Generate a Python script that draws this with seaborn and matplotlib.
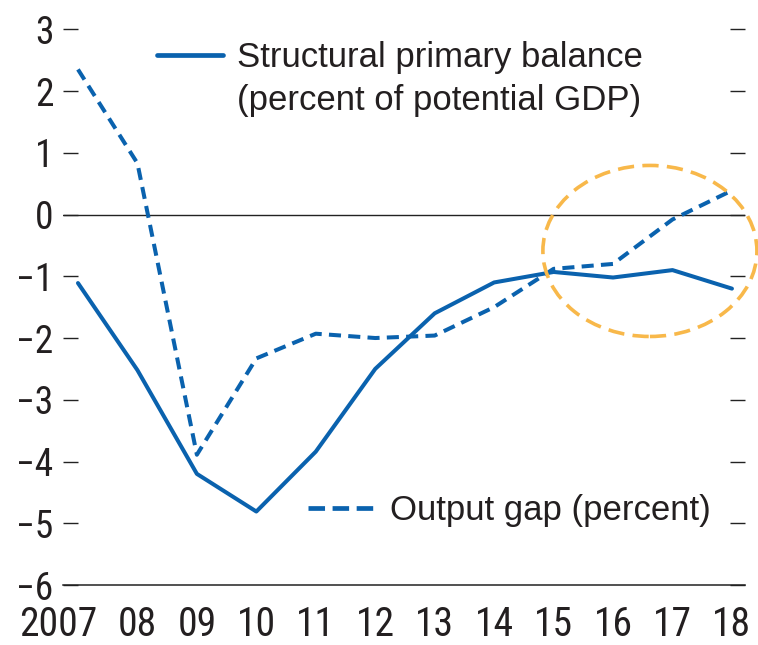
#-----------------------------------------------------------------
# Structural primary balance vs output gap, 2007-18
#-----------------------------------------------------------------

import pandas as pd
import matplotlib.pyplot as plt
import seaborn as sns
from matplotlib.lines import Line2D
from matplotlib.patches import Ellipse
from matplotlib.transforms import ScaledTranslation

#-----------------------------------------------------------------
# Data
#-----------------------------------------------------------------

years = [2007, 2008, 2009, 2010, 2011, 2012, 2013, 2014, 2015, 2016, 2017, 2018]
tick_labels = ["2007", "08", "09", "10", "11", "12", "13", "14", "15", "16", "17", "18"]
structural_balance = [-1.11, -2.52, -4.2, -4.81, -3.84, -2.5, -1.6, -1.1, -0.93, -1.02, -0.9, -1.2]
output_gap = [2.35, 0.83, -3.89, -2.33, -1.93, -2.0, -1.96, -1.5, -0.88, -0.8, -0.08, 0.39]
y_ticks = [-6, -5, -4, -3, -2, -1, 0, 1, 2, 3]

BLUE = "#0A62AE"
ORANGE = "#F8B84A"
TEXT = "#231F20"
TICK_FONT = ["Roboto Condensed", "DejaVu Sans"]
LEGEND_FONT = ["Liberation Sans", "DejaVu Sans"]

#-----------------------------------------------------------------
# Style
#-----------------------------------------------------------------

sns.set_style("white")
plt.rcParams["font.family"] = TICK_FONT
plt.rcParams["axes.unicode_minus"] = True

df = pd.DataFrame({"year": years, "balance": structural_balance, "gap": output_gap})

fig = plt.figure(figsize=(7.58, 6.45), dpi=100)
ax = fig.add_axes([0.0831, 0.093, 0.8997, 0.8616])

sns.lineplot(data=df, x="year", y="balance", ax=ax, color=BLUE, lw=2.9, legend=False)
sns.lineplot(data=df, x="year", y="gap", ax=ax, color=BLUE, lw=2.9, legend=False)
ax.lines[-1].set_dashes((3.0, 1.8))

# zero line
ax.axhline(0, color="#222222", lw=1.0, zorder=1)

# highlight circle around the last years
ax.add_patch(Ellipse((2016.62, -0.59), 3.6, 2.77, fill=False, ec=ORANGE, lw=2.6,
                     ls=(0, (4.5, 2.3)), clip_on=False, zorder=5))

ax.set_xlim(2006.748, 2018.219)
ax.set_ylim(-6, 3)
ax.set_xticks(years)
ax.set_xticklabels(tick_labels)
ax.set_yticks(y_ticks)
ax.set_yticklabels([str(v).replace("-", "\u2212") for v in y_ticks])
ax.set_xlabel("")
ax.set_ylabel("")

for side in ["top", "left", "right"]:
    ax.spines[side].set_visible(False)
ax.spines["bottom"].set_color("#222222")
ax.spines["bottom"].set_linewidth(1.1)

ax.tick_params(axis="x", direction="in", length=12, width=1.1, colors="#222222",
               labelcolor=TEXT, labelsize=28.5, pad=14.5)
ax.tick_params(axis="y", direction="in", length=10.5, width=1.0, colors="#222222",
               labelcolor=TEXT, labelsize=27, pad=7, left=True, right=True,
               labelright=False)

# "2007": keep the "07" under its tick, as in the original
first = ax.get_xticklabels()[0]
first.set_transform(first.get_transform() + ScaledTranslation(-0.20, 0, fig.dpi_scale_trans))

# legends placed inside the plot like the original
h1 = Line2D([], [], color=BLUE, lw=3.4)
blank = Line2D([], [], alpha=0)
leg1 = ax.legend([h1, blank], ["Structural primary balance", "(percent of potential GDP)"],
                 loc="upper left", bbox_to_anchor=(0.138, 0.979), frameon=False,
                 prop={"family": LEGEND_FONT, "size": 25}, handlelength=1.9,
                 handletextpad=0.4, borderpad=0, borderaxespad=0,
                 labelcolor=TEXT, labelspacing=0.28)
ax.add_artist(leg1)

h2 = Line2D([], [], color=BLUE, lw=3.4, dashes=(3.5, 1.6))
ax.legend([h2], ["Output gap (percent)"], loc="center left",
          bbox_to_anchor=(0.360, 0.134), frameon=False,
          prop={"family": LEGEND_FONT, "size": 25}, handlelength=2.0,
          handletextpad=0.35, borderpad=0, borderaxespad=0, labelcolor=TEXT)

fig.savefig("out.png", dpi=100)
